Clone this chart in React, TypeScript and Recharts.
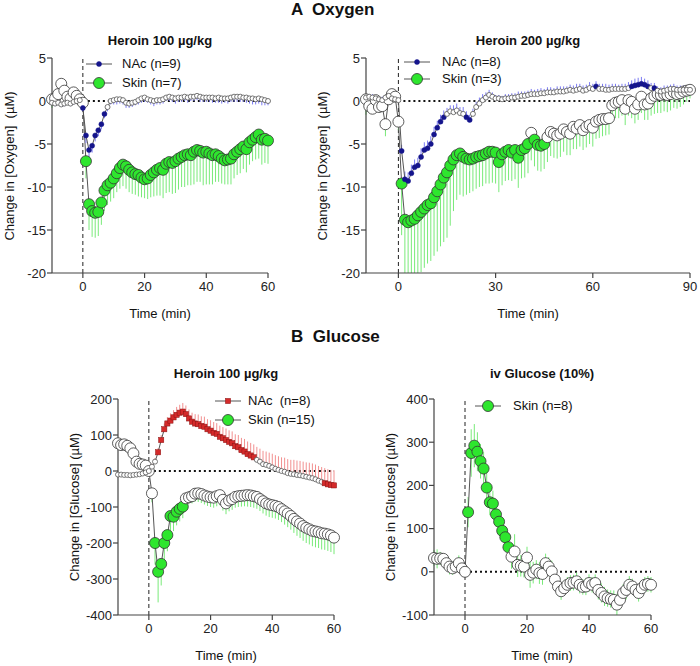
import React from 'react';
import { LineChart, Line, XAxis, YAxis, ReferenceLine, ErrorBar } from 'recharts';

const FONT = '"Liberation Sans", Arial, Helvetica, sans-serif';

const GREEN = '#2ee62e';
const GREEN_ERR = '#79ea79';
const NAVY = '#14148c';
const BLUE_ERR = '#7b7bf2';
const RED = '#d42a2a';
const RED_ERR = '#f29090';

// A1 - oxygen, heroin 100 µg/kg, 1-min bins starting at -10 min
const A1_START = -10;
const A1_NAC = [
  -0.2, -0.3, -0.2, -0.4, -0.3, -0.2, -0.3, -0.1, 0.0, 0.1,
  -0.8, -4.0, -5.7, -5.2, -4.0, -3.4, -2.7, -1.5, -0.7, 0.0,
  0.1, 0.2, 0.2, 0.1, -0.2, -0.3, -0.2, -0.1, 0.1, 0.3,
  0.4, 0.2, 0.1, 0.0, 0.1, 0.1, 0.2, 0.4, 0.5, 0.4,
  0.3, 0.4, 0.4, 0.5, 0.4, 0.5, 0.5, 0.6, 0.5, 0.4,
  0.4, 0.4, 0.4, 0.3, 0.4, 0.3, 0.3, 0.3, 0.4, 0.5,
  0.5, 0.5, 0.4, 0.4, 0.3, 0.3, 0.2, 0.3, 0.2, 0.1, 0.0,
];
const A1_NAC_ERR = [
  0.3, 0.3, 0.2, 0.3, 0.3, 0.2, 0.3, 0.3, 0.2, 0.3,
  0.4, 0.9, 0.9, 0.8, 0.7, 0.7, 0.6, 0.5, 0.5, 0.4,
  0.5, 0.6, 0.5, 0.5, 0.6, 0.5, 0.5, 0.4, 0.5, 0.5,
  0.5, 0.4, 0.5, 0.6, 0.5, 0.5, 0.5, 0.4, 0.5, 0.5,
  0.6, 0.5, 0.5, 0.5, 0.6, 0.5, 0.5, 0.5, 0.6, 0.5,
  0.5, 0.5, 0.6, 0.5, 0.6, 0.6, 0.5, 0.6, 0.5, 0.6,
  0.6, 0.6, 0.5, 0.6, 0.6, 0.7, 0.6, 0.6, 0.7, 0.6, 0.5,
];
const A1_NAC_SIG: [number, number][] = [[0, 7]];
const A1_SKIN = [
  0.2, 0.3, 0.8, 2.0, 1.2, 0.5, 0.3, 1.0, 0.6, 0.2,
  -0.2, -7.0, -12.0, -12.8, -13.0, -12.9, -11.8, -10.4, -9.8, -9.5,
  -9.0, -8.4, -7.8, -7.4, -7.6, -8.0, -8.3, -8.5, -8.6, -8.9,
  -9.1, -9.0, -8.6, -8.3, -8.0, -7.8, -8.0, -7.3, -7.1, -7.2,
  -7.0, -6.7, -6.5, -6.3, -6.2, -6.3, -5.9, -5.7, -5.8, -6.0,
  -5.9, -6.1, -6.3, -6.2, -6.4, -6.7, -6.9, -6.8, -6.7, -6.2,
  -5.9, -5.6, -5.3, -5.6, -4.8, -4.5, -4.2, -3.9, -4.5, -4.4, -4.6,
];
const A1_SKIN_ERR = [
  1.0, 0.4, 0.5, 0.6, 0.5, 0.4, 0.5, 0.6, 0.5, 0.4,
  0.5, 2.0, 3.0, 3.0, 2.9, 2.8, 2.6, 2.4, 2.3, 2.2,
  2.3, 2.2, 2.4, 2.5, 2.6, 2.6, 2.5, 2.4, 2.5, 2.3,
  2.2, 2.4, 2.6, 2.8, 3.0, 3.2, 3.3, 3.4, 3.5, 3.6,
  3.7, 3.6, 3.5, 3.7, 3.6, 3.5, 3.8, 3.7, 3.6, 3.8,
  3.8, 3.6, 3.4, 3.2, 3.0, 2.9, 2.8, 2.9, 3.0, 2.8,
  2.7, 2.8, 2.6, 2.7, 2.6, 2.5, 2.6, 2.8, 2.9, 2.8, 2.7,
];
const A1_SKIN_SIG: [number, number][] = [[1, 60]];

// A2 - oxygen, heroin 200 µg/kg, -10 … 90 min
const A2_START = -10;
const A2_NAC = [
  0.4, 0.5, 0.4, 0.3, 0.2, 0.1, 0.4, 0.6, 0.3, 0.2,
  0.1, -5.8, -9.1, -9.3, -8.4, -7.7, -7.5, -6.5, -5.7, -5.5,
  -5.0, -3.9, -3.1, -2.4, -1.9, -1.5, -1.2, -1.3, -1.1, -1.4,
  -1.5, -1.9, -2.2, -1.5, -0.7, -0.3, 0.1, 0.4, 0.7, 0.5,
  0.3, 0.3, 0.2, 0.3, 0.3, 0.4, 0.4, 0.5, 0.6, 0.6,
  0.7, 0.8, 0.8, 0.8, 0.9, 0.9, 1.0, 1.0, 1.0, 1.1,
  1.1, 1.1, 1.2, 1.3, 1.2, 1.3, 1.4, 1.2, 1.3, 1.5,
  1.4, 1.7, 1.4, 1.4, 1.3, 1.3, 1.4, 1.4, 1.4, 1.4,
  1.4, 1.5, 1.7, 1.8, 1.9, 2.0, 1.9, 1.7, 1.5, 1.5,
  1.2, 1.1, 1.2, 1.3, 1.4, 1.4, 1.3, 1.3, 1.3, 1.3, 1.3,
];
const A2_NAC_ERR = [
  0.3, 0.3, 0.4, 0.3, 0.3, 0.4, 0.3, 0.3, 0.4, 0.3,
  0.3, 0.7, 0.9, 1.0, 1.0, 0.9, 0.9, 1.0, 0.9, 0.9,
  0.9, 0.9, 0.8, 0.8, 0.8, 0.7, 0.7, 0.8, 0.8, 0.7,
  0.8, 0.7, 0.6, 0.6, 0.6, 0.7, 0.7, 0.6, 0.6, 0.5,
  0.4, 0.4, 0.4, 0.5, 0.5, 0.5, 0.5, 0.6, 0.5, 0.5,
  0.5, 0.6, 0.5, 0.6, 0.6, 0.5, 0.6, 0.6, 0.5, 0.6,
  0.6, 0.6, 0.5, 0.6, 0.6, 0.7, 0.6, 0.6, 0.6, 0.7,
  0.6, 0.6, 0.6, 0.6, 0.7, 0.6, 0.6, 0.6, 0.5, 0.6,
  0.6, 0.7, 0.7, 0.8, 0.8, 0.8, 0.7, 0.7, 0.6, 0.6,
  0.5, 0.5, 0.6, 0.5, 0.5, 0.6, 0.5, 0.5, 0.5, 0.4, 0.4,
];
const A2_NAC_SIG: [number, number][] = [[1, 14], [21, 22], [61, 61], [72, 77], [79, 79]];
const A2_SKIN = [
  0.2, -0.6, -0.9, 0.1, -0.7, -0.6, -2.7, 0.2, 0.8, 0.5,
  -2.4, -9.6, -13.8, -14.1, -13.9, -13.7, -13.3, -12.9, -12.5, -12.1,
  -11.9, -11.2, -10.5, -9.7, -8.9, -8.3, -7.5, -6.8, -6.3, -6.1,
  -6.5, -6.7, -6.8, -6.7, -6.5, -6.4, -6.3, -6.1, -5.9, -5.9,
  -6.0, -7.1, -6.2, -5.9, -5.7, -6.0, -5.7, -6.6, -5.7, -5.5,
  -5.0, -3.7, -4.5, -5.1, -5.2, -5.0, -4.2, -3.6, -3.8, -4.0,
  -3.8, -3.3, -3.6, -3.8, -3.0, -3.2, -2.8, -3.4, -3.0, -2.8,
  -3.1, -2.4, -2.2, -2.1, -2.1, -2.0, -0.5, -0.2, -0.1, 0.1,
  -0.9, 0.1, -0.1, -0.9, -0.4, 0.5, -0.4, -0.3, 0.3, 0.6,
  0.8, 0.7, 0.8, 0.7, 0.8, 1.0, 0.8, 0.9, 1.1, 1.2, 1.3,
];
const A2_SKIN_ERR = [
  1.8, 0.6, 0.5, 0.8, 0.6, 0.6, 1.4, 0.5, 0.4, 0.5,
  1.0, 6.0, 8.0, 7.5, 7.5, 7.3, 7.2, 7.0, 6.9, 6.8,
  6.7, 6.8, 7.0, 7.2, 7.5, 7.6, 7.0, 6.0, 5.2, 4.8,
  4.6, 4.2, 3.9, 3.8, 3.7, 3.6, 3.6, 3.5, 3.7, 3.6,
  3.6, 3.5, 3.6, 3.4, 3.5, 3.3, 3.4, 3.5, 3.3, 3.4,
  3.4, 3.2, 3.1, 3.0, 3.0, 2.9, 2.9, 2.8, 2.8, 2.7,
  2.7, 2.6, 2.7, 2.5, 2.6, 2.4, 2.5, 2.3, 2.4, 2.2,
  2.2, 2.0, 2.1, 2.0, 1.9, 1.9, 2.0, 1.8, 1.9, 1.8,
  1.9, 1.8, 1.9, 1.7, 1.8, 1.9, 1.8, 1.9, 2.0, 2.1,
  2.2, 2.1, 2.0, 2.0, 1.9, 1.8, 1.7, 1.6, 1.5, 1.3, 1.0,
];
const A2_SKIN_SIG: [number, number][] = [[1, 40], [42, 45]];

// B1 - glucose, heroin 100 µg/kg
const B1_START = -10;
const B1_NAC = [
  -10, -10, -11, -11, -12, -11, -10, -9, -7, -4,
  0, 12, 26, 52, 86, 116, 132, 140, 149, 156,
  162, 165, 158, 146, 137, 132, 130, 125, 123, 116,
  112, 106, 103, 95, 91, 86, 81, 77, 69, 66,
  58, 54, 47, 43, 38, 31, 26, 19, 17, 14,
  10, 6, 3, 0, -2, -6, -8, -9, -11, -12,
  -14, -16, -18, -20, -23, -27, -30, -34, -37, -39, -40,
];
const B1_NAC_ERR = [
  3, 3, 3, 3, 3, 3, 3, 3, 3, 4,
  5, 8, 10, 12, 14, 16, 18, 20, 20, 22,
  22, 24, 24, 25, 25, 26, 27, 27, 28, 28,
  29, 30, 30, 31, 31, 32, 32, 33, 33, 34,
  34, 35, 35, 35, 36, 36, 36, 37, 37, 37,
  38, 38, 38, 38, 39, 39, 39, 40, 40, 40,
  40, 40, 41, 41, 41, 41, 41, 42, 42, 42, 42,
];
const B1_NAC_SIG: [number, number][] = [[3, 34], [57, 60]];
const B1_SKIN = [
  77, 72, 74, 70, 63, 49, 26, 20, 18, 15,
  0, -62, -200, -280, -258, -200, -178, -125, -127, -113,
  -105, -99, -76, -73, -70, -63, -62, -64, -68, -71,
  -73, -74, -70, -67, -80, -90, -82, -78, -72, -70,
  -69, -68, -67, -68, -70, -72, -78, -84, -90, -93,
  -95, -97, -100, -106, -112, -118, -125, -133, -140, -146,
  -153, -158, -162, -166, -168, -170, -173, -174, -176, -179, -185,
];
const B1_SKIN_ERR = [
  5, 5, 5, 5, 5, 5, 5, 5, 5, 5,
  5, 25, 60, 85, 60, 70, 45, 40, 40, 38,
  35, 32, 20, 18, 20, 22, 24, 25, 25, 26,
  27, 28, 28, 28, 30, 30, 30, 30, 30, 30,
  30, 30, 32, 32, 32, 33, 33, 34, 34, 35,
  35, 35, 36, 36, 37, 38, 38, 39, 40, 40,
  41, 42, 42, 43, 44, 44, 45, 45, 46, 46, 46,
];
const B1_SKIN_SIG: [number, number][] = [[2, 11]];

// B2 - glucose, iv glucose 10%
const B2_START = -10;
const B2_SKIN = [
  32, 30, 31, 30, 20, 12, 8, 12, 20, 8,
  0, 138, 275, 292, 278, 256, 239, 195, 161, 158,
  133, 116, 95, 80, 57, 35, 47, 16, 14, 12,
  33, -7, -2, 5, -3, -5, 20, 12, 1, -18,
  -34, -45, -38, -30, -26, -25, -22, -30, -35, -34,
  -26, -30, -26, -42, -49, -57, -61, -63, -65, -76,
  -65, -49, -42, -30, -34, -42, -49, -38, -30, -28, -30,
];
const B2_SKIN_ERR = [
  18, 22, 15, 12, 15, 18, 15, 12, 18, 15,
  10, 35, 55, 50, 45, 40, 38, 35, 30, 30,
  28, 28, 25, 25, 25, 28, 40, 28, 25, 25,
  25, 30, 25, 22, 25, 25, 22, 22, 25, 25,
  22, 20, 18, 18, 18, 18, 20, 20, 18, 20,
  20, 18, 20, 22, 22, 22, 20, 20, 22, 25,
  22, 20, 22, 20, 18, 18, 20, 18, 18, 18, 18,
];
const B2_SKIN_SIG: [number, number][] = [[1, 14]];

type Shape = 'big' | 'small' | 'square';

interface SeriesDef {
  key: string;
  values: number[];
  err: number[];
  dir: 'up' | 'down' | 'both';
  sig: [number, number][];
  shape: Shape;
  color: string;
  errColor: string;
}

function Marker({ shape, x, y, fill }: { shape: Shape; x: number; y: number; fill: string | null }) {
  if (shape === 'big') {
    return <circle cx={x} cy={y} r={5.5} fill={fill || '#fff'} stroke="#333" strokeWidth={0.8} />;
  }
  if (shape === 'square' && fill) {
    return <rect x={x - 2.6} y={y - 2.6} width={5.2} height={5.2} fill={fill} stroke="#8a1414" strokeWidth={0.5} />;
  }
  if (fill) {
    return <circle cx={x} cy={y} r={2.5} fill={fill} stroke={fill} strokeWidth={0.5} />;
  }
  return <circle cx={x} cy={y} r={2.5} fill="#fff" stroke="#555" strokeWidth={0.8} />;
}

const YW = 50;
const MT = 10;
const XH = 30;

const axisStyle = { stroke: '#444', strokeWidth: 1.2 };
const tickStyle = { fontSize: 13, fill: '#222', fontFamily: FONT };

interface PanelProps {
  left: number;
  top: number;
  width: number;
  height: number;
  right: number;
  start: number;
  xDomain: [number, number];
  xTicks: number[];
  yDomain: [number, number];
  yTicks: number[];
  series: SeriesDef[];
}

function Panel(p: PanelProps) {
  const n = p.series[0].values.length;
  const rows = Array.from({ length: n }, (_, i) => {
    const t = p.start + i;
    const row: Record<string, any> = { t };
    p.series.forEach((s) => {
      const v = s.values[i];
      const e = s.err[i];
      // keep the bars inside the plotted range, as the original clips them
      const lo = s.dir === 'up' ? 0 : Math.min(e, v - p.yDomain[0]);
      const hi = s.dir === 'down' ? 0 : Math.min(e, p.yDomain[1] - v);
      row[s.key] = v;
      row[s.key + 'Err'] = [lo, hi];
      row[s.key + 'Sig'] = s.sig.some(([a, b]) => t >= a && t <= b);
    });
    return row;
  });

  const dotFor = (s: SeriesDef) => (props: any) => {
    const { cx, cy, payload, index } = props;
    if (cx == null || cy == null) return <g key={`${s.key}-${index}`} />;
    return (
      <Marker
        key={`${s.key}-${index}`}
        shape={s.shape}
        x={cx}
        y={cy}
        fill={payload[s.key + 'Sig'] ? s.color : null}
      />
    );
  };

  return (
    <div style={{ position: 'absolute', left: p.left - YW, top: p.top - MT }}>
      <LineChart
        width={YW + p.width + p.right}
        height={MT + p.height + XH}
        data={rows}
        margin={{ top: MT, right: p.right, bottom: 0, left: 0 }}
      >
        <XAxis
          type="number"
          dataKey="t"
          domain={p.xDomain}
          ticks={p.xTicks}
          interval={0}
          height={XH}
          tickSize={5}
          tickMargin={4}
          tick={tickStyle}
          axisLine={axisStyle}
          tickLine={axisStyle}
        />
        <YAxis
          type="number"
          domain={p.yDomain}
          ticks={p.yTicks}
          interval={0}
          width={YW}
          tickSize={5}
          tickMargin={1}
          tick={tickStyle}
          axisLine={axisStyle}
          tickLine={axisStyle}
        />
        <ReferenceLine x={0} stroke="#222" strokeWidth={1} strokeDasharray="4 3" />
        <ReferenceLine
          segment={[{ x: 0, y: 0 }, { x: p.xDomain[1], y: 0 }]}
          stroke="#111"
          strokeWidth={2}
          strokeDasharray="2 3"
        />
        {p.series.map((s) => (
          <Line
            key={s.key}
            type="linear"
            dataKey={s.key}
            stroke="#555"
            strokeWidth={1}
            dot={dotFor(s)}
            activeDot={false}
            isAnimationActive={false}
          >
            <ErrorBar dataKey={s.key + 'Err'} direction="y" width={0} stroke={s.errColor} strokeWidth={1} />
          </Line>
        ))}
      </LineChart>
    </div>
  );
}

function Label({ x, y, size = 13, bold = false, rotate = false, children }: any) {
  return (
    <div
      style={{
        position: 'absolute',
        left: x,
        top: y,
        fontSize: size,
        fontWeight: bold ? 'bold' : 'normal',
        lineHeight: 1,
        whiteSpace: 'pre',
        transform: `translate(-50%, -50%)${rotate ? ' rotate(-90deg)' : ''}`,
      }}
    >
      {children}
    </div>
  );
}

function LegendItem({ x, y, tx, shape, color, text }: any) {
  return (
    <>
      <svg style={{ position: 'absolute', left: x - 14, top: y - 7 }} width={28} height={14}>
        <line x1={1} y1={7} x2={27} y2={7} stroke="#555" strokeWidth={1} />
        <Marker shape={shape} x={14} y={7} fill={color} />
      </svg>
      <div style={{ position: 'absolute', left: tx, top: y - 8, fontSize: 13, lineHeight: '16px', whiteSpace: 'pre' }}>
        {text}
      </div>
    </>
  );
}

export default function App() {
  const a1: SeriesDef[] = [
    { key: 'skin', values: A1_SKIN, err: A1_SKIN_ERR, dir: 'down', sig: A1_SKIN_SIG, shape: 'big', color: GREEN, errColor: GREEN_ERR },
    { key: 'nac', values: A1_NAC, err: A1_NAC_ERR, dir: 'down', sig: A1_NAC_SIG, shape: 'small', color: NAVY, errColor: BLUE_ERR },
  ];
  const a2: SeriesDef[] = [
    { key: 'skin', values: A2_SKIN, err: A2_SKIN_ERR, dir: 'down', sig: A2_SKIN_SIG, shape: 'big', color: GREEN, errColor: GREEN_ERR },
    { key: 'nac', values: A2_NAC, err: A2_NAC_ERR, dir: 'up', sig: A2_NAC_SIG, shape: 'small', color: NAVY, errColor: BLUE_ERR },
  ];
  const b1: SeriesDef[] = [
    { key: 'skin', values: B1_SKIN, err: B1_SKIN_ERR, dir: 'down', sig: B1_SKIN_SIG, shape: 'big', color: GREEN, errColor: GREEN_ERR },
    { key: 'nac', values: B1_NAC, err: B1_NAC_ERR, dir: 'up', sig: B1_NAC_SIG, shape: 'square', color: RED, errColor: RED_ERR },
  ];
  const b2: SeriesDef[] = [
    { key: 'skin', values: B2_SKIN, err: B2_SKIN_ERR, dir: 'both', sig: B2_SKIN_SIG, shape: 'big', color: GREEN, errColor: GREEN_ERR },
  ];

  return (
    <div
      style={{
        position: 'absolute',
        left: 0,
        top: 0,
        width: 700,
        height: 666,
        overflow: 'hidden',
        background: '#fff',
        fontFamily: FONT,
        color: '#111',
      }}
    >
      <div style={{ position: 'absolute', left: 291, top: 1, fontSize: 17, fontWeight: 'bold', lineHeight: '18px', whiteSpace: 'pre' }}>
        A  Oxygen
      </div>
      <div style={{ position: 'absolute', left: 291, top: 328, fontSize: 17, fontWeight: 'bold', lineHeight: '18px', whiteSpace: 'pre' }}>
        B  Glucose
      </div>

      <Panel left={52} top={58} width={216} height={215} right={10} start={A1_START}
        xDomain={[-10, 60]} xTicks={[0, 20, 40, 60]} yDomain={[-20, 5]} yTicks={[-20, -15, -10, -5, 0, 5]} series={a1} />
      <Panel left={366} top={58} width={324} height={215} right={10} start={A2_START}
        xDomain={[-10, 90]} xTicks={[0, 30, 60, 90]} yDomain={[-20, 5]} yTicks={[-20, -15, -10, -5, 0, 5]} series={a2} />
      <Panel left={118} top={399} width={216} height={216} right={10} start={B1_START}
        xDomain={[-10, 60]} xTicks={[0, 20, 40, 60]} yDomain={[-400, 200]} yTicks={[-400, -300, -200, -100, 0, 100, 200]} series={b1} />
      <Panel left={434} top={399} width={217} height={216} right={10} start={B2_START}
        xDomain={[-10, 60]} xTicks={[0, 20, 40, 60]} yDomain={[-100, 400]} yTicks={[-100, 0, 100, 200, 300, 400]} series={b2} />

      <Label x={160} y={40} bold>Heroin 100 µg/kg</Label>
      <Label x={528} y={40} bold>Heroin 200 µg/kg</Label>
      <Label x={226} y={373} bold>Heroin 100 µg/kg</Label>
      <Label x={542} y={373} bold>iv Glucose (10%)</Label>

      <Label x={160} y={313}>Time (min)</Label>
      <Label x={528} y={313}>Time (min)</Label>
      <Label x={226} y={655}>Time (min)</Label>
      <Label x={542} y={655}>Time (min)</Label>

      <Label x={9} y={166} rotate>Change in [Oxygen]  (µM)</Label>
      <Label x={322} y={166} rotate>Change in [Oxygen]  (µM)</Label>
      <Label x={74} y={507} rotate>Change in [Glucose] (µM)</Label>
      <Label x={390} y={507} rotate>Change in [Glucose] (µM)</Label>

      <LegendItem x={99} y={64} tx={122} shape="small" color={NAVY} text="NAc (n=9)" />
      <LegendItem x={99} y={83} tx={122} shape="big" color={GREEN} text="Skin (n=7)" />
      <LegendItem x={417} y={62} tx={442} shape="small" color={NAVY} text="NAc (n=8)" />
      <LegendItem x={417} y={79} tx={442} shape="big" color={GREEN} text="Skin (n=3)" />
      <LegendItem x={228} y={401} tx={248} shape="square" color={RED} text="NAc  (n=8)" />
      <LegendItem x={228} y={420} tx={248} shape="big" color={GREEN} text="Skin (n=15)" />
      <LegendItem x={488} y={406} tx={513} shape="big" color={GREEN} text="Skin (n=8)" />
    </div>
  );
}
